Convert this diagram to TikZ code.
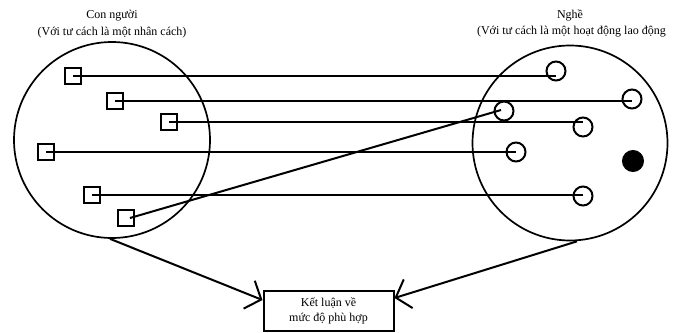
\documentclass[tikz,border=0pt]{standalone}
\usepackage{fontspec}
\setmainfont{Liberation Serif}
\usetikzlibrary{arrows.meta}
\begin{document}
\begin{tikzpicture}[x=1pt,y=-1pt,line width=2pt,
  big/.style={draw,circle,inner sep=0pt,line width=1.7pt},
  sq/.style={draw,rectangle,inner sep=0pt,minimum size=16pt,line width=2.2pt},
  dot/.style={draw,circle,inner sep=0pt,minimum size=19pt},
  lbl/.style={align=center,font=\fontsize{12}{17}\selectfont,inner sep=0pt},
  arr/.style={-{Straight Barb[length=13pt,width=30pt,line width=2pt]}},
  box/.style={draw,rectangle,minimum width=130pt,minimum height=40pt,align=center,font=\fontsize{12}{14.5}\selectfont,inner sep=0pt}]
\useasboundingbox (0,0) rectangle (682,332);
% big circles
\node[big,minimum size=196pt] (L) at (112,140) {};
\node[big,minimum size=195pt] (R) at (570,143) {};
% titles
\node[lbl] (tL) at (112,24) {Con người\\(Với tư cách là một nhân cách)};
\node[lbl] (tR1) at (570,15) {Nghề};
\node[lbl,anchor=west] (tR2) at (476,32) {(Với tư cách là một hoạt động lao động};
% squares
\node[sq] (s1) at (73,76) {};
\node[sq] (s2) at (115,101) {};
\node[sq] (s3) at (169,122) {};
\node[sq] (s4) at (46,152) {};
\node[sq] (s5) at (92,195) {};
\node[sq] (s6) at (126,218) {};
% small circles
\node[dot] (c1) at (556,71) {};
\node[dot] (c2) at (632,99) {};
\node[dot] (c3) at (504,111) {};
\node[dot] (c4) at (583,127) {};
\node[dot] (c5) at (516,152) {};
\node[dot,fill=black,minimum size=20pt] (c6) at (633,161) {};
\node[dot] (c7) at (583,196) {};
% connectors
\draw (s1.center) -- (s1.center -| c1.center);
\draw (s2.center) -- (s2.center -| c2.center);
\draw (s3.center) -- (s3.center -| c4.center);
\draw (s4.center) -- (s4.center -| c5.center);
\draw (s5.center) -- (s5.center -| c7.center);
\draw ([xshift=4pt]s6.center) -- ([xshift=-3pt,yshift=1pt]c3.center);
% conclusion box
\node[box] (K) at (328.5,311) {Kết luận về\\mức độ phù hợp};
\draw[arr] ([xshift=-2pt]L.south) -- ([yshift=-10pt]K.north west);
\draw[arr] ([xshift=7pt]R.south) -- ([yshift=-8pt]K.north east);
\end{tikzpicture}
\end{document}
